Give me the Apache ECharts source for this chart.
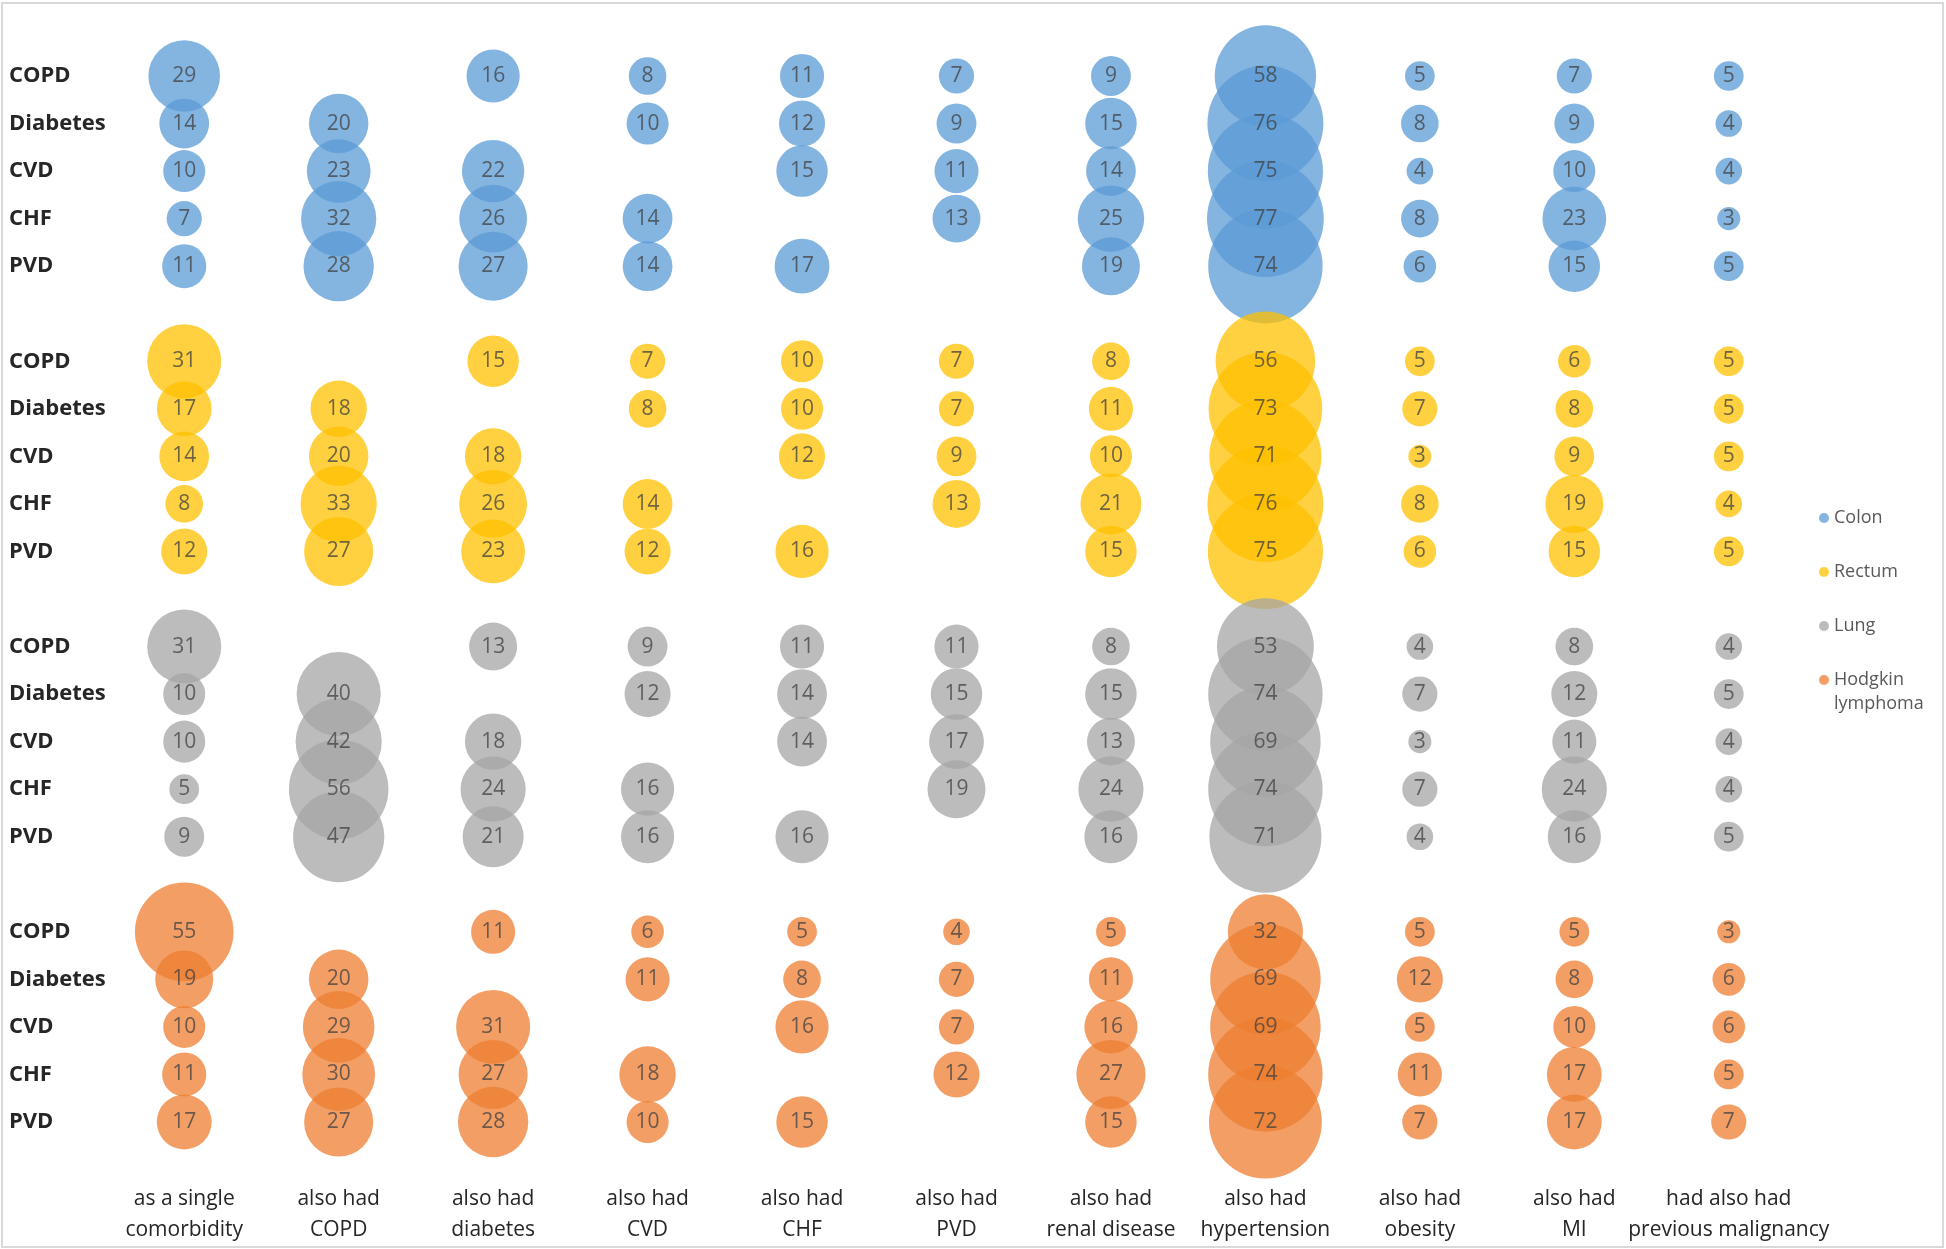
<!DOCTYPE html>
<html>
<head>
<meta charset="utf-8">
<script src="https://cdn.jsdelivr.net/npm/echarts@6/dist/echarts.min.js"></script>
<style>
  html, body { margin: 0; padding: 0; background: #fff; }
  #chart { position: absolute; left: 0; top: 0; width: 1946px; height: 1249px; }
  #frame { position: absolute; left: 1px; top: 2px; width: 1939px; height: 1242px; border: 2px solid #d9d9d9; pointer-events: none; }
</style>
</head>
<body>
<div id="chart"></div>
<div id="frame"></div>
<script>
var colLabels = ['as a single\ncomorbidity', 'also had\nCOPD', 'also had\ndiabetes', 'also had\nCVD', 'also had\nCHF', 'also had\nPVD',
    'also had\nrenal disease', 'also had\nhypertension', 'also had\nobesity', 'also had\nMI', 'had also had\nprevious malignancy'];
var rowLabels = ['COPD', 'Diabetes', 'CVD', 'CHF', 'PVD'];
var seriesNames = ['Colon', 'Rectum', 'Lung', 'Hodgkin lymphoma'];
var seriesColors = ['#5B9BD5', '#FFC000', '#A5A5A5', '#ED7D31'];

// rows: COPD, Diabetes, CVD, CHF, PVD ; null = no bubble
var colonValues = [
    [29, null, 16, 8, 11, 7, 9, 58, 5, 7, 5],
    [14, 20, null, 10, 12, 9, 15, 76, 8, 9, 4],
    [10, 23, 22, null, 15, 11, 14, 75, 4, 10, 4],
    [7, 32, 26, 14, null, 13, 25, 77, 8, 23, 3],
    [11, 28, 27, 14, 17, null, 19, 74, 6, 15, 5]
];
var rectumValues = [
    [31, null, 15, 7, 10, 7, 8, 56, 5, 6, 5],
    [17, 18, null, 8, 10, 7, 11, 73, 7, 8, 5],
    [14, 20, 18, null, 12, 9, 10, 71, 3, 9, 5],
    [8, 33, 26, 14, null, 13, 21, 76, 8, 19, 4],
    [12, 27, 23, 12, 16, null, 15, 75, 6, 15, 5]
];
var lungValues = [
    [31, null, 13, 9, 11, 11, 8, 53, 4, 8, 4],
    [10, 40, null, 12, 14, 15, 15, 74, 7, 12, 5],
    [10, 42, 18, null, 14, 17, 13, 69, 3, 11, 4],
    [5, 56, 24, 16, null, 19, 24, 74, 7, 24, 4],
    [9, 47, 21, 16, 16, null, 16, 71, 4, 16, 5]
];
var hodgkinValues = [
    [55, null, 11, 6, 5, 4, 5, 32, 5, 5, 3],
    [19, 20, null, 11, 8, 7, 11, 69, 12, 8, 6],
    [10, 29, 31, null, 16, 7, 16, 69, 5, 10, 6],
    [11, 30, 27, 18, null, 12, 27, 74, 11, 17, 5],
    [17, 27, 28, 10, 15, null, 15, 72, 7, 17, 7]
];

var groups = [colonValues, rectumValues, lungValues, hodgkinValues];
var FONT = '"Open Sans", Lato, sans-serif';

// y slots: 5 rows per group + 1 blank row between groups
var yLabels = [];
groups.forEach(function (g, gi) {
    rowLabels.forEach(function (r) { yLabels.push(r); });
    if (gi < groups.length - 1) yLabels.push('');
});

function toPoints(values, gi) {
    var pts = [];
    values.forEach(function (row, ri) {
        row.forEach(function (v, ci) {
            if (v != null) pts.push([ci, gi * 6 + ri, v]);
        });
    });
    return pts;
}

var series = groups.map(function (g, gi) {
    return {
        name: seriesNames[gi],
        type: 'scatter',
        data: toPoints(g, gi),
        symbolSize: function (d) { return 13.3 * Math.sqrt(d[2]); },
        itemStyle: { color: seriesColors[gi], opacity: 0.75 },
        label: {
            show: true,
            position: 'inside',
            formatter: function (p) { return p.value[2]; },
            color: '#404040',
            fontSize: 21,
            fontFamily: FONT
        },
        emphasis: { disabled: true }
    };
});

var chart = echarts.init(document.getElementById('chart'));
var option = {
    animation: false,
    backgroundColor: '#fff',
    grid: { left: 107, right: 140, top: 76, bottom: 127 },
    legend: [
        {
            data: ['Colon', 'Rectum', 'Lung'],
            orient: 'vertical',
            left: 1819,
            top: 506,
            padding: 0,
            itemGap: 30,
            itemWidth: 10,
            itemHeight: 10,
            icon: 'circle',
            textStyle: { color: '#595959', fontSize: 18, lineHeight: 24, fontFamily: FONT }
        },
        {
            // blank first line so the symbol sits beside "Hodgkin"
            data: ['Hodgkin lymphoma'],
            orient: 'vertical',
            left: 1819,
            top: 644,
            padding: 0,
            itemWidth: 10,
            itemHeight: 10,
            icon: 'circle',
            formatter: function () { return ' \nHodgkin\nlymphoma'; },
            textStyle: { color: '#595959', fontSize: 18, lineHeight: 24, fontFamily: FONT }
        }
    ],
    xAxis: {
        type: 'category',
        data: colLabels,
        boundaryGap: true,
        axisLine: { show: false },
        axisTick: { show: false },
        splitLine: { show: false },
        axisLabel: {
            interval: 0,
            margin: 62,
            lineHeight: 31,
            fontSize: 21,
            color: '#262626',
            fontFamily: FONT
        }
    },
    yAxis: {
        type: 'value',
        inverse: true,
        min: 0,
        max: 22,
        interval: 1,
        axisLine: { show: false },
        axisTick: { show: false },
        splitLine: { show: false },
        axisLabel: {
            align: 'left',
            margin: 98,
            fontSize: 22,
            fontWeight: 'bold',
            color: '#262626',
            fontFamily: FONT,
            padding: [4, 0, 0, 0],
            formatter: function (v) { return yLabels[v] || ''; }
        }
    },
    series: series
};
chart.setOption(option);
</script>
</body>
</html>
